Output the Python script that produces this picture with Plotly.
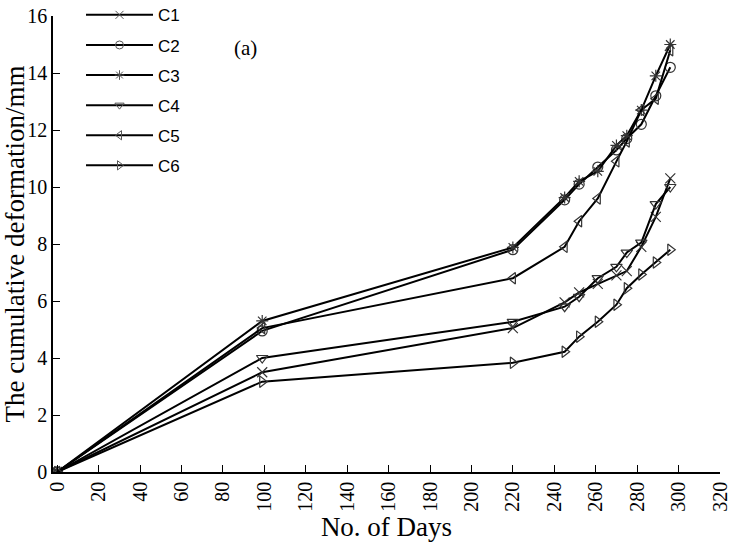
import plotly.graph_objects as go

days = [0, 99, 220, 245, 252, 261, 270, 275, 282, 289, 296]
c1 = [0, 3.50, 5.05, 5.95, 6.30, 6.60, 6.90, 7.05, 7.90, 8.95, 10.30]
c2 = [0, 4.95, 7.80, 9.55, 10.10, 10.70, 11.30, 11.70, 12.20, 13.20, 14.20]
c3 = [0, 5.30, 7.88, 9.63, 10.20, 10.55, 11.46, 11.80, 12.70, 13.90, 15.00]
c4 = [0, 4.00, 5.27, 5.80, 6.15, 6.80, 7.20, 7.70, 8.05, 9.40, 10.00]
c5 = [0, 5.05, 6.80, 7.90, 8.80, 9.60, 10.90, 11.60, 12.70, 13.10, 14.80]
c6 = [0, 3.17, 3.83, 4.22, 4.75, 5.27, 5.87, 6.45, 6.93, 7.35, 7.80]

names = ["C1", "C2", "C3", "C4", "C5", "C6"]
series = [c1, c2, c3, c4, c5, c6]
symbols = ["x-thin-open", "circle-open", "asterisk-open",
           "triangle-down-open", "triangle-left-open", "triangle-right-open"]

SERIF = "Liberation Serif"
SANS = "Liberation Sans"

fig = go.Figure()
for n, s, sym in zip(names, series, symbols):
    fig.add_trace(go.Scatter(
        x=days, y=s, name=n, mode="lines+markers", showlegend=False,
        line=dict(color="black", width=2),
        marker=dict(symbol=sym, size=10, color="#333333",
                    line=dict(color="#333333", width=1.2)),
    ))
# legend entries (smaller markers, as in the reference legend)
for n, sym in zip(names, symbols):
    fig.add_trace(go.Scatter(
        x=[None], y=[None], name=n, mode="lines+markers", legendgroup=n,
        line=dict(color="black", width=2),
        marker=dict(symbol=sym, size=8, color="#555555",
                    line=dict(color="#555555", width=1)),
    ))

fig.update_layout(
    width=732, height=546,
    margin=dict(l=53, r=12, t=16, b=74, autoexpand=False),
    paper_bgcolor="white", plot_bgcolor="white",
    showlegend=True,
    legend=dict(x=0.042, y=1.041, xanchor="left", yanchor="top",
                bgcolor="rgba(0,0,0,0)", itemwidth=67, tracegroupgap=5,
                font=dict(family=SANS, size=17, color="black")),
    annotations=[dict(text="(a)", x=0.288, y=0.93, xref="paper", yref="paper",
                      showarrow=False, xanchor="center", yanchor="middle",
                      font=dict(family=SERIF, size=21, color="black"))],
)

fig.update_xaxes(
    range=[-2, 320], tickmode="linear", tick0=0, dtick=20,
    showline=True, linecolor="black", linewidth=1.5, mirror=False,
    ticks="inside", ticklen=7, tickcolor="black", tickangle=-90,
    showgrid=False, zeroline=False,
    tickfont=dict(family=SERIF, size=20, color="black"),
    title=dict(text="No. of Days", standoff=2,
               font=dict(family=SERIF, size=27, color="black")),
)
fig.update_yaxes(
    range=[0, 16], tickmode="linear", tick0=0, dtick=2,
    showline=True, linecolor="black", linewidth=1.5, mirror=False,
    ticks="inside", ticklen=7, tickcolor="black",
    showgrid=False, zeroline=False,
    tickfont=dict(family=SERIF, size=20, color="black"),
    title=dict(text="The cumulative deformation/mm", standoff=1,
               font=dict(family=SERIF, size=27, color="black")),
)

fig.write_html("out.html")
